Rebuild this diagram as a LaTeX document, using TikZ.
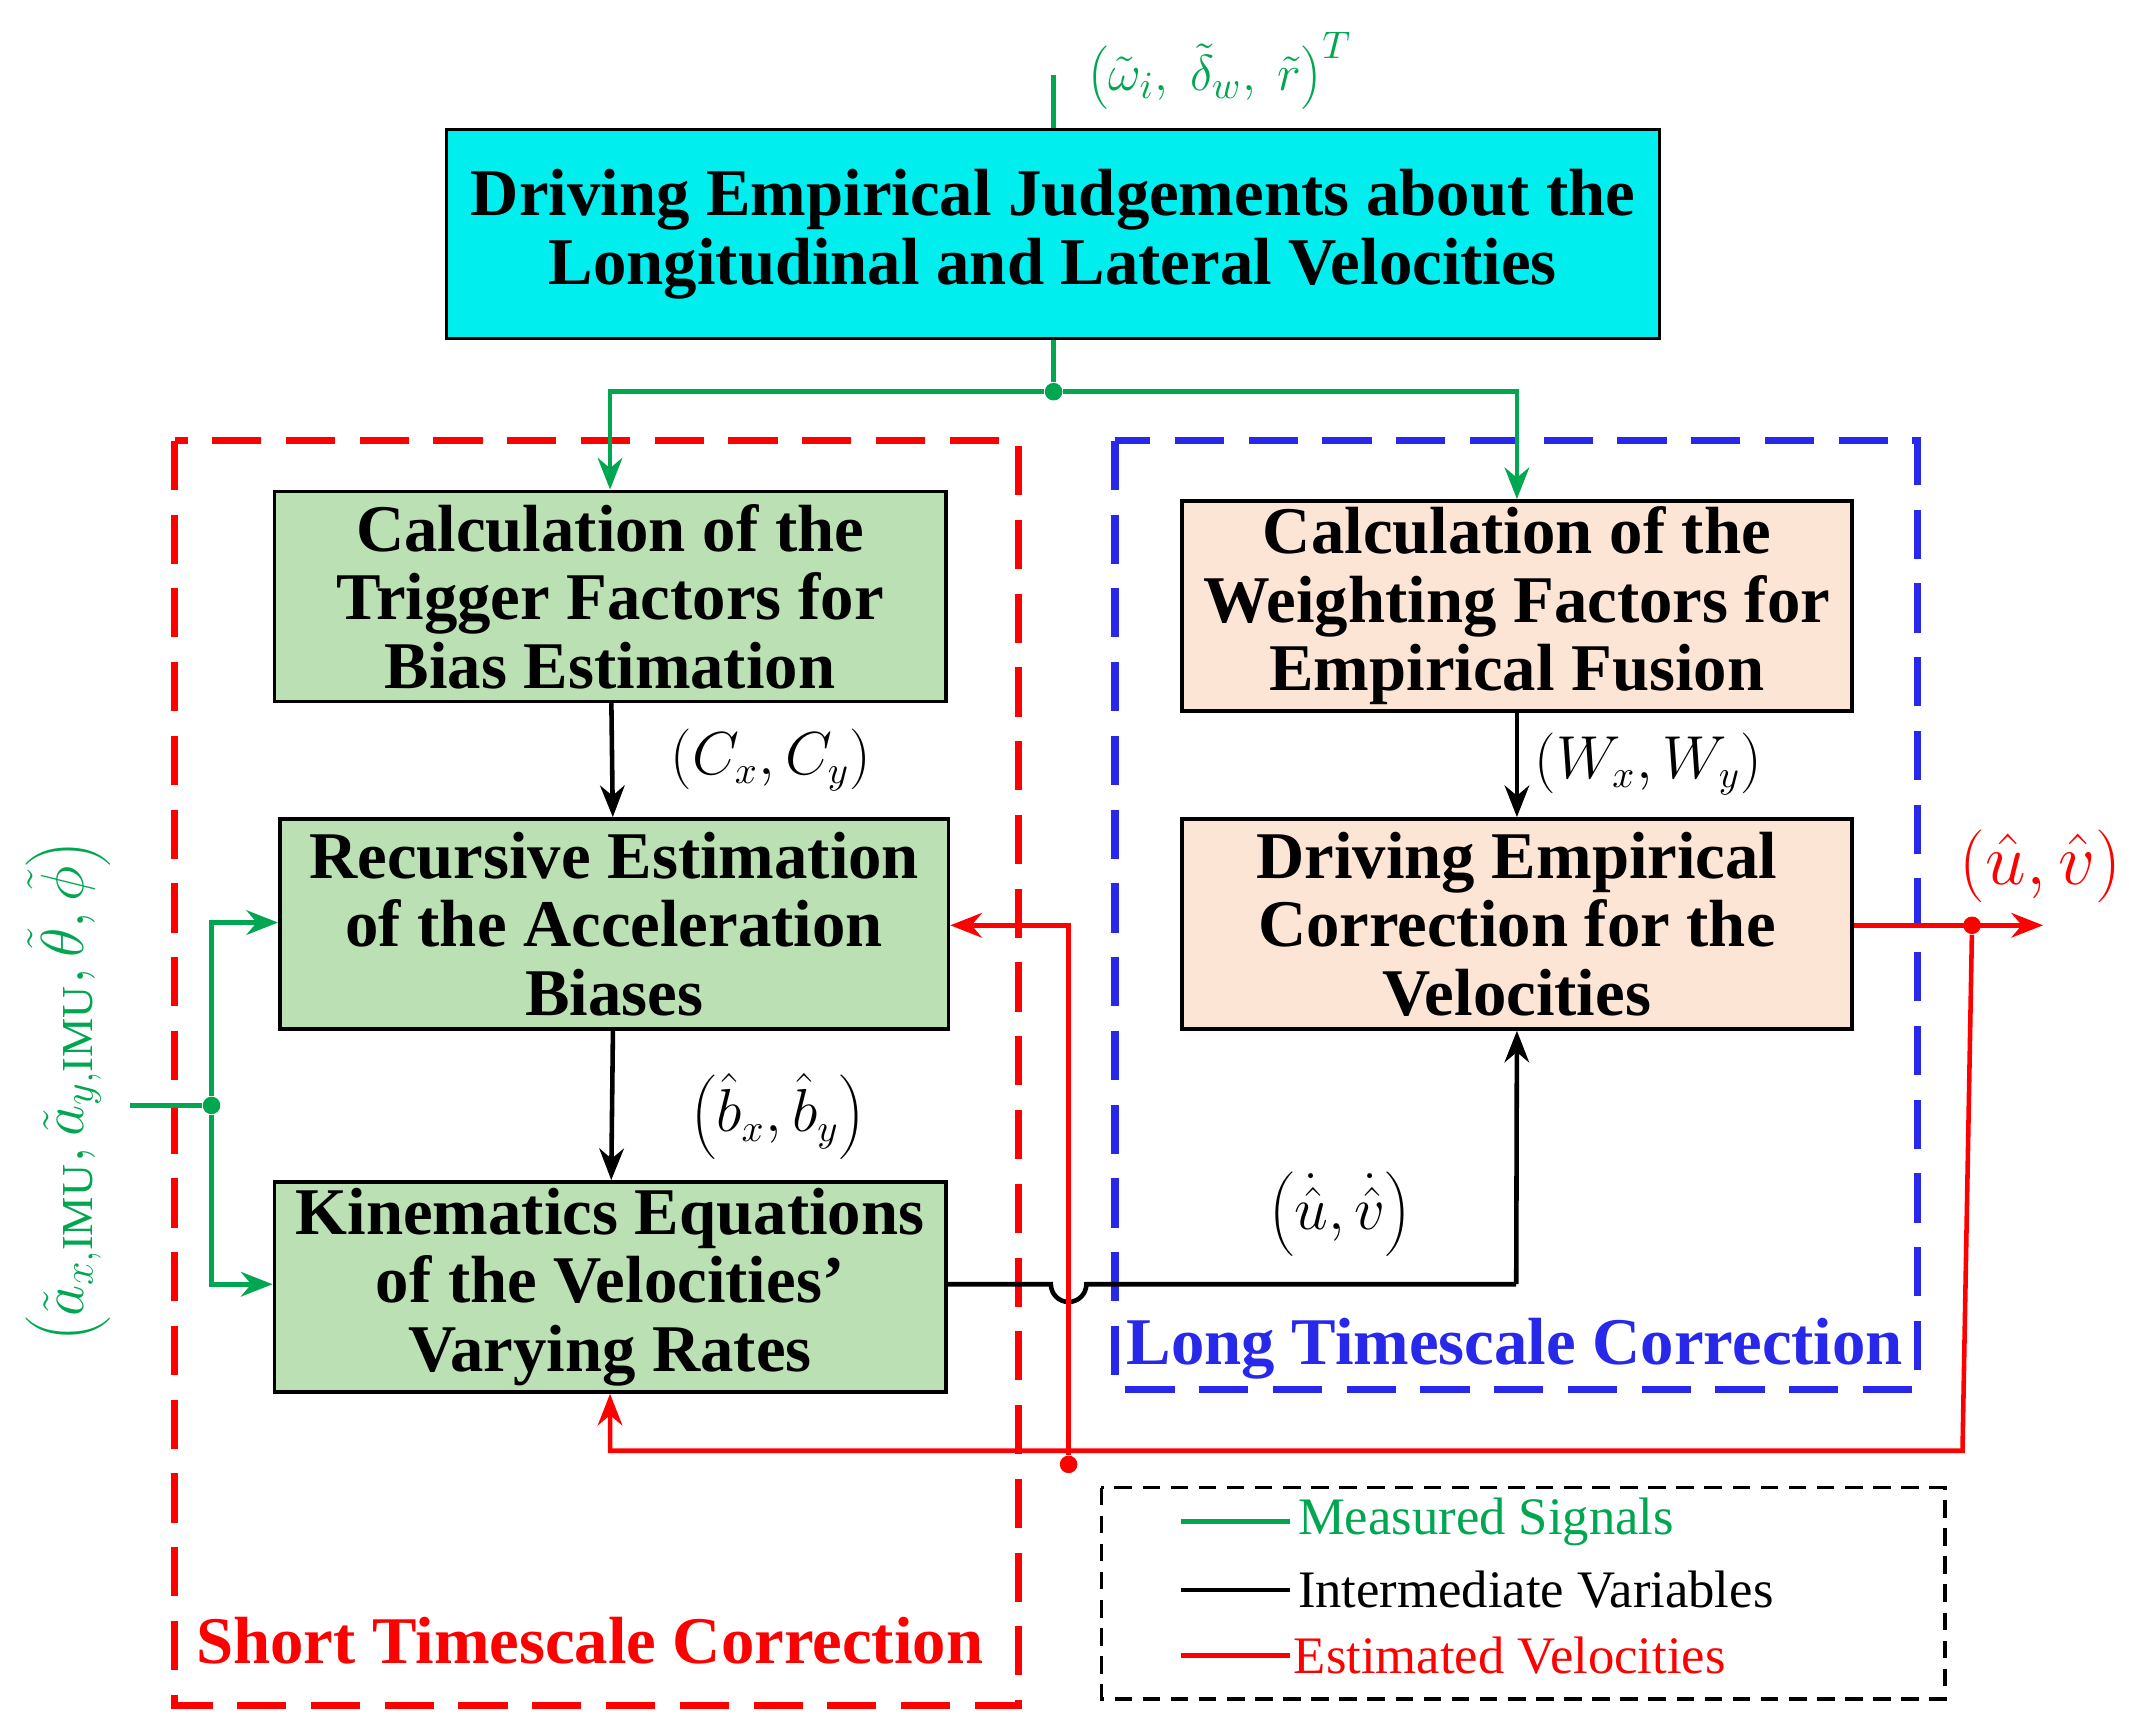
\documentclass[tikz,border=0pt]{standalone}
\usepackage{fontspec}
\setmainfont{Liberation Serif}
\usetikzlibrary{arrows.meta}
\definecolor{sg}{RGB}{0,166,80}
\definecolor{bxg}{RGB}{187,224,179}
\definecolor{bxo}{RGB}{253,229,213}
\definecolor{cy}{RGB}{0,238,238}
\definecolor{lb}{RGB}{40,40,235}
\begin{document}
\begin{tikzpicture}[x=0.01365cm,y=-0.01365cm,
 box/.style={draw,line width=1pt,align=center,font=\fontsize{19}{19.5}\selectfont\bfseries,inner sep=0},
 ln/.style={line width=1.3pt},
 arr/.style={ln,-{Stealth[length=9pt,width=7pt]}},
 dot/.style={circle,fill,inner sep=0,minimum size=5pt},
 lbl/.style={font=\fontsize{16}{18}\selectfont}]
\useasboundingbox (0,0) rectangle (1560,1260);
% dashed regions
\draw[red,line width=2pt,dash pattern=on 14pt off 7pt] (128,323) rectangle (746,1250);
\draw[lb,line width=2pt,dash pattern=on 14pt off 7pt] (817,323) rectangle (1405,1018);
\node[red,font=\fontsize{19}{20}\selectfont\bfseries] (st) at (432,1202) {Short Timescale Correction};
\node[lb,font=\fontsize{19}{20}\selectfont\bfseries] (lt) at (1110,988) {Long Timescale Correction};
% boxes
\node[box,fill=cy,minimum width=889*0.01365cm,minimum height=153*0.01365cm] (top) at (771.5,171.5) {Driving Empirical Judgements about the\\Longitudinal and Lateral Velocities};
\node[box,fill=bxg,minimum width=492*0.01365cm,minimum height=154*0.01365cm] (A) at (447,437) {Calculation of the\\Trigger Factors for\\Bias Estimation};
\node[box,fill=bxg,minimum width=490*0.01365cm,minimum height=154*0.01365cm] (B) at (450,677) {Recursive Estimation\\of the Acceleration\\Biases};
\node[box,fill=bxg,minimum width=492*0.01365cm,minimum height=154*0.01365cm] (C) at (447,943) {Kinematics Equations\\of the Velocities'\\Varying Rates};
\node[box,fill=bxo,minimum width=491*0.01365cm,minimum height=154*0.01365cm] (D) at (1111.5,444) {Calculation of the\\Weighting Factors for\\Empirical Fusion};
\node[box,fill=bxo,minimum width=491*0.01365cm,minimum height=154*0.01365cm] (E) at (1111.5,677) {Driving Empirical\\Correction for the\\Velocities};
% top input
\coordinate (tin) at (772,55);
\draw[sg,ln] (tin) -- (top.north -| tin);
\node[sg,font=\fontsize{15}{18}\selectfont,anchor=west] (tl) at (788,52) {$\left(\tilde\omega_i,\ \tilde\delta_w,\ \tilde r\right)^T$};
\node[dot,sg] (d1) at (772,287) {};
\draw[sg,ln] (top.south -| d1) -- (d1);
\draw[sg,arr] (d1) -| (A.north);
\draw[sg,arr] (d1) -| (D.north);
% black
\draw[arr] (A) -- (B);
\draw[arr] (B) -- (C);
\draw[arr] (D) -- (E);
\node[lbl] (l1) at (565,557) {$\left(C_x,C_y\right)$};
\node[lbl] (l2) at (570,818) {$\left(\hat b_x,\hat b_y\right)$};
\node[lbl] (l3) at (1208,560) {$\left(W_x,W_y\right)$};
\node[font=\fontsize{19}{20}\selectfont] (l4) at (982,890) {$\left(\dot{\hat u},\dot{\hat v}\right)$};
\draw[ln] (C.east |- 0,941) -- (770,941) arc (180:0:13) -- (1111,941);
\draw[arr] (1111,941) -- (E.south);
% red
\coordinate (ro) at (1497,678);
\node[dot,red] (d2) at (1445,678) {};
\draw[red,arr] (E.east |- ro) -- (ro);
\node[red,font=\fontsize{20}{24}\selectfont] (ul) at (1495,635) {$\left(\hat u,\hat v\right)$};
\draw[red,arr] (d2) -- (1438,1063) -- (447,1063) -- (C.south);
\node[dot,red] (d3) at (783,1073) {};
\draw[red,arr] (d3) -- (783,678) -- (B.east |- 0,678);
% green left input
\coordinate (gin) at (95,810);
\node[dot,sg] (d4) at (155,810) {};
\draw[sg,ln] (gin) -- (d4);
\draw[sg,arr] (d4) |- (B.west |- 0,676);
\draw[sg,arr] (d4) |- (C.west |- 0,941);
\node[sg,font=\fontsize{18}{22}\selectfont,rotate=90] (gl) at (50,800) {$\left(\tilde a_{x,\mathrm{IMU}},\tilde a_{y,\mathrm{IMU}},\tilde\theta,\tilde\phi\right)$};
% legend
\draw[line width=1pt,dash pattern=on 5pt off 3pt] (807,1090) rectangle (1425,1245);
\draw[sg,ln] (865,1115) -- (945,1115);
\node[sg,font=\fontsize{15}{18}\selectfont,anchor=west,inner sep=1pt] (m1) at (948,1115) {Measured Signals};
\draw[ln] (865,1165) -- (945,1165);
\node[font=\fontsize{15}{18}\selectfont,anchor=west,inner sep=1pt] (m2) at (948,1165) {Intermediate Variables};
\draw[red,ln] (865,1213) -- (945,1213);
\node[red,font=\fontsize{15}{18}\selectfont,anchor=west,inner sep=1pt] (m3) at (945,1213) {Estimated Velocities};
\end{tikzpicture}
\end{document}
